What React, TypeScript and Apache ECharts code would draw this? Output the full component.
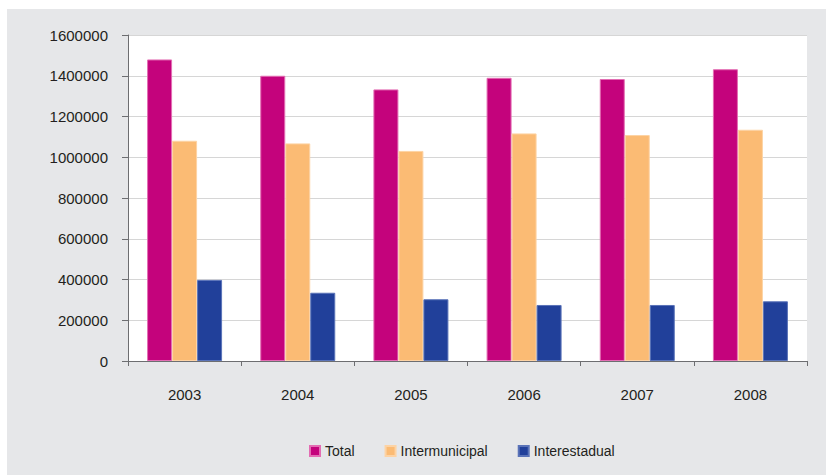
import React, { useEffect, useRef } from "react";
import * as echarts from "echarts";

const categories = ["2003", "2004", "2005", "2006", "2007", "2008"];
const seriesNames = ["Total", "Intermunicipal", "Interestadual"];
const totalValues = [1480000, 1400000, 1333000, 1390000, 1384000, 1432000];
const intermunicipalValues = [1081000, 1068000, 1031000, 1117000, 1109000, 1135000];
const interestadualValues = [398000, 335000, 303000, 275000, 275000, 293000];
const colors = ["#c4037c", "#fbbb74", "#21409a"];
const borderColors = ["#e36db3", "#fdd3a4", "#5a73b8"];

const FONT = "Liberation Sans";

export default function App() {
  const ref = useRef<HTMLDivElement>(null);
  useEffect(() => {
    if (!ref.current) return;
    const chart = echarts.init(ref.current, undefined, { renderer: "svg" });
    const data = [totalValues, intermunicipalValues, interestadualValues];
    chart.setOption({
      animation: false,
      backgroundColor: "#e6e7e9",
      textStyle: { fontFamily: FONT },
      grid: {
        left: 121,
        top: 26,
        right: 19,
        bottom: 114,
        show: true,
        backgroundColor: "#ffffff",
        borderWidth: 0,
      },
      legend: {
        data: seriesNames,
        left: 302,
        top: 435,
        padding: 0,
        itemWidth: 10,
        itemHeight: 10,
        itemGap: 30,
        icon: "rect",
        textStyle: { fontSize: 14, color: "#231f20", fontFamily: FONT },
      },
      xAxis: {
        type: "category",
        data: categories,
        boundaryGap: true,
        axisLine: { show: true, lineStyle: { color: "#6d6e71", width: 1 } },
        axisTick: { show: true, length: 5, alignWithLabel: false, lineStyle: { color: "#6d6e71" } },
        axisLabel: { fontSize: 15, color: "#231f20", margin: 26, fontFamily: FONT },
        splitLine: { show: false },
      },
      yAxis: {
        type: "value",
        min: 0,
        max: 1600000,
        interval: 200000,
        axisLine: { show: true, lineStyle: { color: "#6d6e71", width: 1 } },
        axisTick: { show: true, length: 6, lineStyle: { color: "#6d6e71" } },
        axisLabel: {
          fontSize: 15,
          color: "#231f20",
          margin: 20,
          fontFamily: FONT,
          formatter: (v: number) => String(v),
        },
        splitLine: { show: true, lineStyle: { color: "#d6d6d6", width: 1 } },
      },
      series: seriesNames.map((name, i) => ({
        name,
        type: "bar",
        data: data[i],
        barWidth: 25,
        barGap: "0%",
        itemStyle: { color: colors[i], borderColor: borderColors[i], borderWidth: 1 },
      })),
    });
    return () => chart.dispose();
  }, []);
  return (
    <div style={{ position: "fixed", left: 0, top: 0, width: 826, height: 475, background: "#ffffff" }}>
      <div ref={ref} style={{ position: "absolute", left: 7, top: 9, width: 819, height: 466 }} />
    </div>
  );
}
